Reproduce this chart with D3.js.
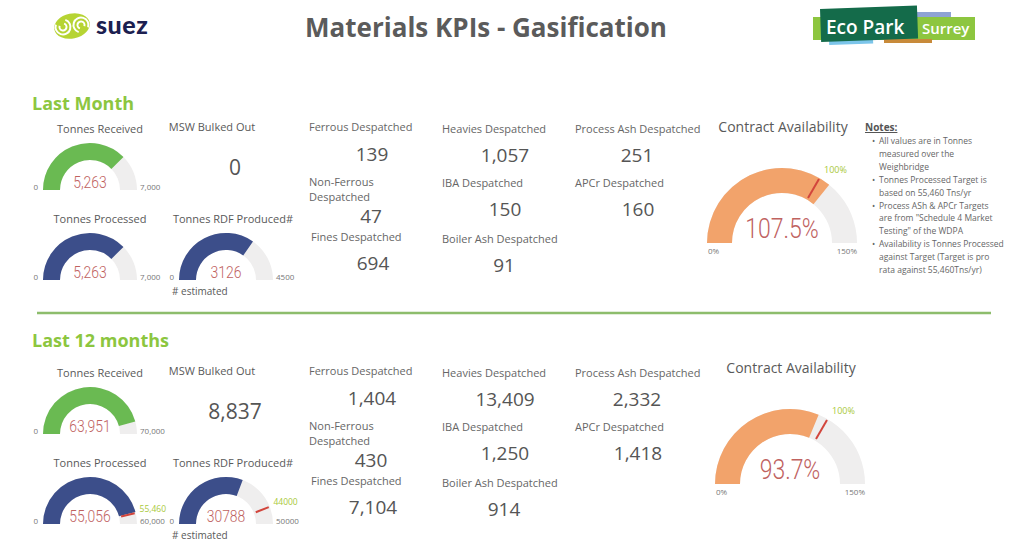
<!DOCTYPE html>
<html lang="en">
<head>
<meta charset="utf-8">
<title>Materials KPIs - Gasification</title>
<script src="https://d3js.org/d3.v7.min.js"></script>
<style>
  body { margin: 0; background: #fff; }
  svg { display: block; font-family: "Open Sans", sans-serif; }
</style>
</head>
<body>
<svg width="1009" height="543"></svg>
<script>
// ---- data ----
const periods = ["Last Month", "Last 12 months"];
const tonnesReceived = [5263, 63951];
const tonnesReceivedMax = [7000, 70000];
const tonnesProcessed = [5263, 55056];
const tonnesProcessedMax = [7000, 60000];
const tonnesProcessedTarget = [null, 55460];
const rdfProduced = [3126, 30788];
const rdfMax = [4500, 50000];
const rdfTarget = [null, 44000];
const mswBulkedOut = [0, 8837];

const kpiNames = ["Ferrous Despatched", "Heavies Despatched", "Process Ash Despatched",
                  "Non-Ferrous|Despatched", "IBA Despatched", "APCr Despatched",
                  "Fines Despatched", "Boiler Ash Despatched"];
const kpiLastMonth = [139, 1057, 251, 47, 150, 160, 694, 91];
const kpiLast12 = [1404, 13409, 2332, 430, 1250, 1418, 7104, 914];

const availability = [107.5, 93.7];
const availabilityTarget = [100, 100];
const availabilityMax = [150, 150];

const notes = [
  ["All values are in Tonnes", "measured over the", "Weighbridge"],
  ["Tonnes Processed Target is", "based on 55,460 Tns/yr"],
  ["Process ASh & APCr Targets", "are from \"Schedule 4 Market", "Testing\" of the WDPA"],
  ["Availability is Tonnes Processed", "against Target (Target is pro", "rata against 55,460Tns/yr)"]
];

// ---- layout ----
const svg = d3.select("svg");
const W = 1009, H = 543;
const green = "#8cc63f";
const valueRed = "#c0625f";
const targetRed = "#d2453c";
const targetGreen = "#a9c93a";

svg.append("rect").attr("width", W).attr("height", H).attr("fill", "#fff");

// title
svg.append("text").attr("x", 486).attr("y", 37).attr("text-anchor", "middle")
   .attr("font-size", 26).attr("font-weight", 700).attr("fill", "#5b5b5b")
   .text("Materials KPIs - Gasification");

// suez logo (rough)
const sl = svg.append("g");
sl.append("ellipse").attr("cx", 72).attr("cy", 26).attr("rx", 18).attr("ry", 12.5)
  .attr("transform", "rotate(-12,72,26)").attr("fill", "#b6d433");
[[63, 27], [81, 25]].forEach(([x, y], i) => {
  [3.5, 7.5].forEach(r => {
    sl.append("path")
      .attr("d", d3.arc().innerRadius(r - 1).outerRadius(r + 1)
        .startAngle(i ? -Math.PI * 0.9 : Math.PI * 0.1).endAngle(i ? Math.PI * 0.6 : Math.PI * 1.6)())
      .attr("transform", `translate(${x},${y})`).attr("fill", "#fff");
  });
});
sl.append("text").attr("x", 96).attr("y", 34).attr("font-family", "Lato, sans-serif")
  .attr("font-weight", 900).attr("font-size", 25).attr("letter-spacing", 0.5)
  .attr("fill", "#1c2050").text("suez");

// Eco Park Surrey logo
const el = svg.append("g");
el.append("rect").attr("x", 917).attr("y", 12).attr("width", 34).attr("height", 8).attr("fill", "#8fa3d4");
el.append("rect").attr("x", 813).attr("y", 17).attr("width", 162).attr("height", 23).attr("fill", "#8dc63f");
el.append("rect").attr("x", 829).attr("y", 39).attr("width", 44).attr("height", 6)
  .attr("transform", "rotate(-2,829,39)").attr("fill", "#7cc5ea");
el.append("rect").attr("x", 884).attr("y", 39).attr("width", 48).attr("height", 4).attr("fill", "#c88a3a");
el.append("rect").attr("x", 820).attr("y", 9).attr("width", 97).attr("height", 33)
  .attr("transform", "rotate(-2,820,9)").attr("fill", "#146b4a");
el.append("text").attr("x", 826).attr("y", 34).attr("font-size", 19).attr("font-weight", 600)
  .attr("fill", "#fff").text("Eco Park");
el.append("text").attr("x", 922).attr("y", 34).attr("font-size", 15).attr("font-weight", 600)
  .attr("fill", "#fff").text("Surrey");

// divider
svg.append("line").attr("x1", 37).attr("x2", 991).attr("y1", 313).attr("y2", 313)
   .attr("stroke", "#8dbd6c").attr("stroke-width", 2.5);

// gauge helper
function gauge(g, o) {
  const ang = d3.scaleLinear().domain([0, o.max]).range([-Math.PI / 2, Math.PI / 2]).clamp(true);
  const arc = d3.arc().innerRadius(o.inner).outerRadius(o.r);
  const gg = g.append("g").attr("transform", `translate(${o.cx},${o.cy})`);
  gg.append("path").attr("d", arc({startAngle: ang(0), endAngle: ang(o.max)})).attr("fill", "#efeeee");
  gg.append("path").attr("d", arc({startAngle: ang(0), endAngle: ang(o.value)})).attr("fill", o.color);
  if (o.target != null) {
    const t = ang(o.target);
    gg.append("line")
      .attr("x1", (o.inner + 2) * Math.sin(t)).attr("y1", -(o.inner + 2) * Math.cos(t))
      .attr("x2", (o.r - 1) * Math.sin(t)).attr("y2", -(o.r - 1) * Math.cos(t))
      .attr("stroke", targetRed).attr("stroke-width", 2);
    const R = o.r + (o.big ? 9 : 4);
    gg.append("text").attr("x", R * Math.sin(t)).attr("y", -R * Math.cos(t) + (o.big ? 3 : 0))
      .attr("font-size", o.big ? 9 : 8.5).attr("fill", targetGreen).text(o.fmt(o.target) + (o.unit || ""));
  }
  // condensed light value text
  gg.append("text").attr("x", 0).attr("y", o.big ? -5 : -2).attr("text-anchor", "middle")
    .attr("transform", "scale(0.82,1)")
    .attr("font-family", "Roboto, sans-serif").attr("font-weight", 300)
    .attr("font-size", o.big ? 28 : 17).attr("fill", valueRed)
    .text(o.fmt(o.value) + (o.unit || ""));
  if (o.big) {
    gg.append("text").attr("x", -o.r + 1).attr("y", 11).attr("font-size", 8).attr("fill", "#777").text("0%");
    gg.append("text").attr("x", o.r).attr("y", 11).attr("text-anchor", "end")
      .attr("font-size", 8).attr("fill", "#777").text(o.fmt(o.max) + "%");
  } else {
    gg.append("text").attr("x", -o.r - 5).attr("y", 0).attr("text-anchor", "end")
      .attr("font-size", 8).attr("fill", "#777").text("0");
    gg.append("text").attr("x", o.r + 3).attr("y", 0)
      .attr("font-size", 8).attr("fill", "#777").text(o.fmt(o.max));
  }
}

function label(g, x, y, txt, size, anchor, fill) {
  return g.append("text").attr("x", x).attr("y", y).attr("text-anchor", anchor || "middle")
    .attr("font-size", size).attr("fill", fill || "#595959").text(txt);
}

const comma = d3.format(",");
const plain = d3.format("d");
const pct = d => String(d);

// KPI card positions: [title x, title baseline, value centre x, value baseline]
const kpiPos = [
  [309, 131, 372, 161], [442, 133, 505, 162], [575, 133, 637, 162],
  [309, 186, 371, 223], [442, 187, 505, 216], [575, 187, 638, 216],
  [311, 241, 373, 270], [442, 243, 504, 272]
];

periods.forEach((p, i) => {
  const dy = i * 244;
  const g = svg.append("g").attr("transform", `translate(0,${dy})`);

  g.append("text").attr("x", 32).attr("y", i ? 103 : 110).attr("font-size", 18)
    .attr("font-weight", 700).attr("fill", green).text(p);

  label(g, 100, 133, "Tonnes Received", 11);
  gauge(g, {cx: 90, cy: 190, r: 47, inner: 30, value: tonnesReceived[i], max: tonnesReceivedMax[i],
            color: "#6aba52", fmt: comma});

  label(g, 212, 131, "MSW Bulked Out", 11);
  label(g, 235, 175, comma(mswBulkedOut[i]), 21, "middle", "#555");

  label(g, 100, 223, "Tonnes Processed", 11);
  gauge(g, {cx: 90, cy: 280, r: 47, inner: 30, value: tonnesProcessed[i], max: tonnesProcessedMax[i],
            target: tonnesProcessedTarget[i], color: "#3c4e8a", fmt: comma});

  label(g, 233, 223, "Tonnes RDF Produced#", 11);
  gauge(g, {cx: 226, cy: 280, r: 47, inner: 30, value: rdfProduced[i], max: rdfMax[i],
            target: rdfTarget[i], color: "#3c4e8a", fmt: plain});
  label(g, 172, 295, "# estimated", 10, "start");

  const vals = i ? kpiLast12 : kpiLastMonth;
  kpiNames.forEach((n, k) => {
    const [tx, ty, vx, vy] = kpiPos[k];
    n.split("|").forEach((line, li) => label(g, tx, ty + li * 15, line, 11, "start", "#666"));
    label(g, vx, vy, comma(vals[k]), 19, "middle", "#555");
  });

  const ax = i * 8, ay = i ? -3 : 0;
  label(g, 783 + ax, 132 + ay, "Contract Availability", 14, "middle", "#595959");
  gauge(g, {cx: 782 + ax, cy: 243 + ay, r: 75, inner: 50, value: availability[i], max: availabilityMax[i],
            target: availabilityTarget[i], color: "#f2a36b", fmt: pct, unit: "%", big: true});
});

// notes
const ng = svg.append("g");
ng.append("text").attr("x", 865).attr("y", 131).attr("font-size", 10).attr("font-weight", 700)
  .attr("fill", "#555").attr("text-decoration", "underline").text("Notes:");
let ly = 144;
notes.forEach(block => {
  block.forEach((line, j) => {
    if (j === 0) ng.append("text").attr("x", 872).attr("y", ly).attr("font-size", 8.5).attr("fill", "#666").text("\u2022");
    ng.append("text").attr("x", 879).attr("y", ly).attr("font-size", 8.5).attr("fill", "#666").text(line);
    ly += 12.9;
  });
});
</script>
</body>
</html>
